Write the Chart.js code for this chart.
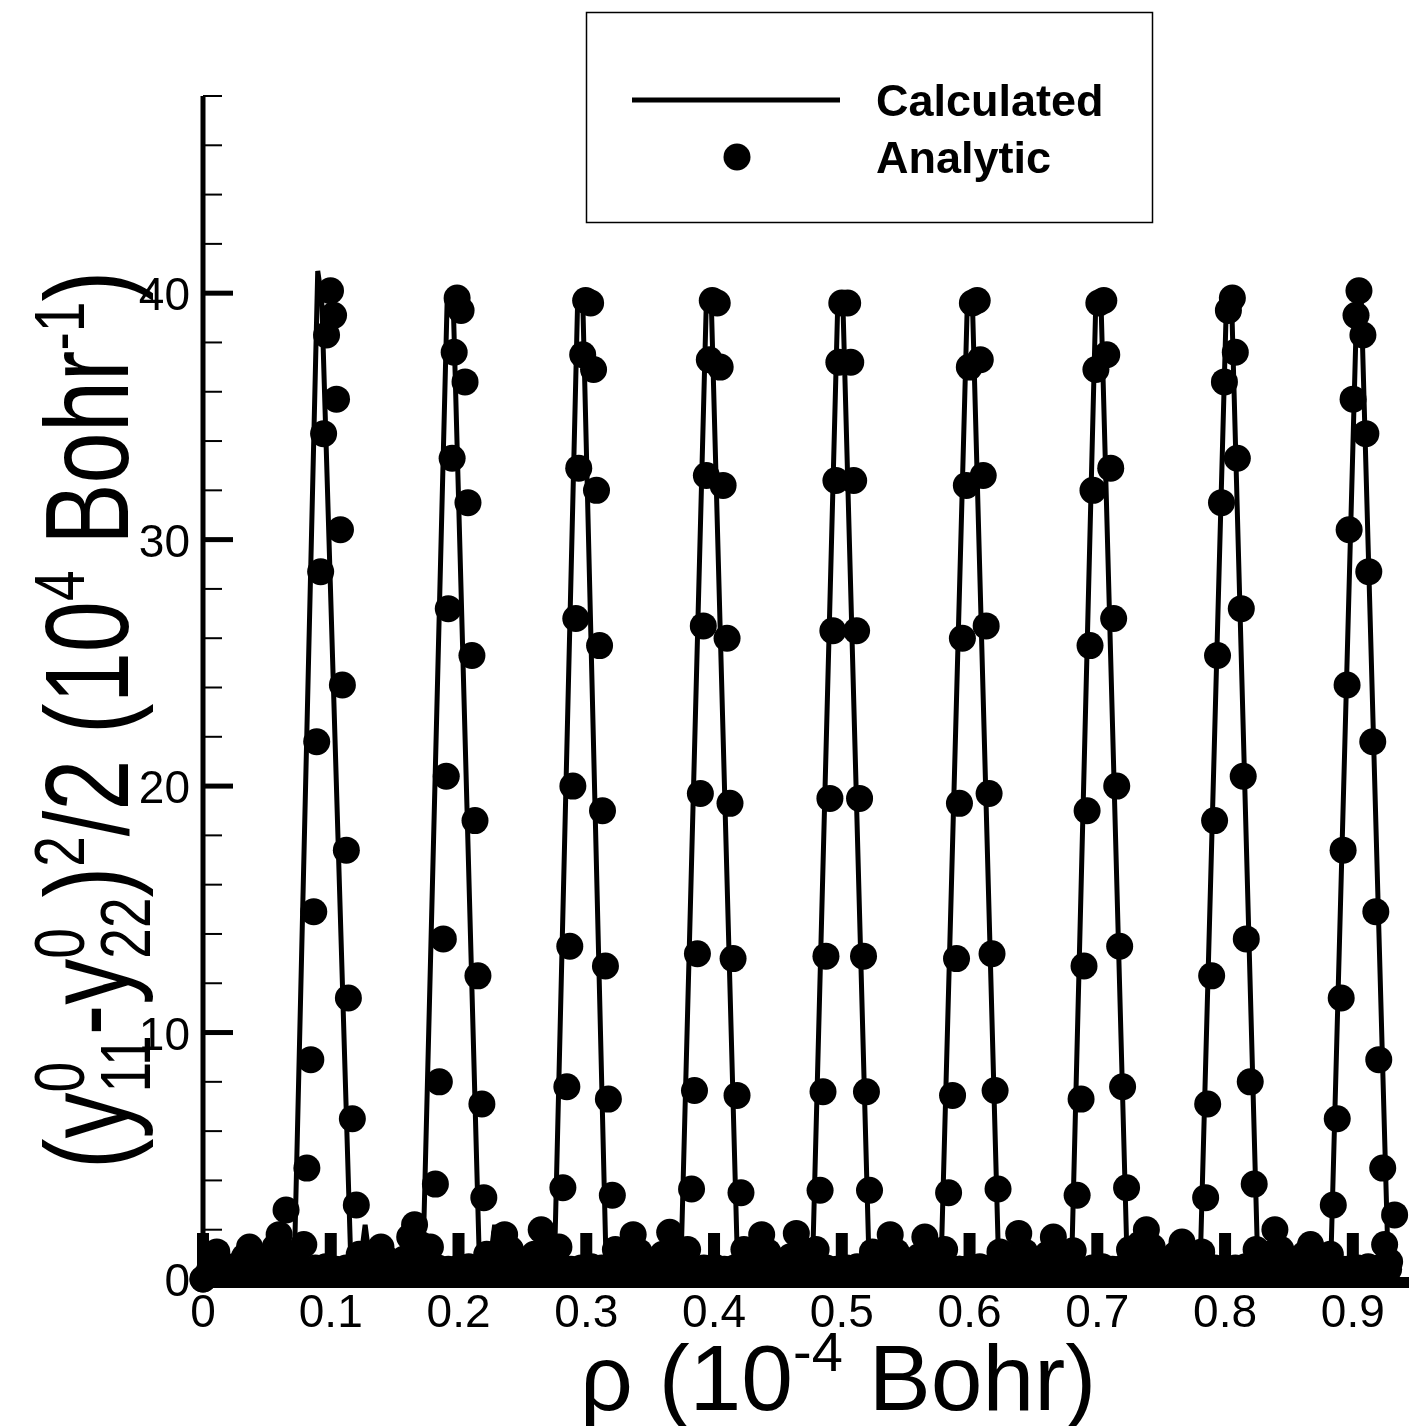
<!DOCTYPE html>
<html>
<head>
<meta charset="utf-8">
<script src="https://cdn.jsdelivr.net/npm/chart.js@4.4.0/dist/chart.umd.min.js"></script>
<style>
  html, body { margin: 0; padding: 0; background: #fff; }
  canvas { display: block; }
</style>
</head>
<body>
<canvas id="chart" width="1409" height="1426"></canvas>
<script>
// calculated curve (rho in 1e-4 Bohr)
const rhoCalc = [
  0, 0.0300, 0.0542, 0.0596, 0.0650,
  0.0712, 0.0898, 0.0929, 0.1161, 0.1215, 0.1269, 0.1324, 0.1450, 0.1595, 0.1649, 0.1703,
  0.1718, 0.1912, 0.1958, 0.2167, 0.2229, 0.2283, 0.2337, 0.2470, 0.2593, 0.2647, 0.2701,
  0.2748, 0.2933, 0.2972, 0.3158, 0.3313, 0.3367, 0.3421, 0.3500, 0.3599, 0.3653, 0.3707,
  0.3738, 0.3940, 0.3978, 0.4187, 0.4319, 0.4373, 0.4427, 0.4500, 0.4590, 0.4644, 0.4698,
  0.4768, 0.4969, 0.5008, 0.5217, 0.5325, 0.5379, 0.5433, 0.5500, 0.5596, 0.5650, 0.5704,
  0.5774, 0.5983, 0.6022, 0.6231, 0.6331, 0.6385, 0.6439, 0.6510, 0.6602, 0.6656, 0.6710,
  0.6796, 0.6989, 0.7028, 0.7237, 0.7330, 0.7384, 0.7438, 0.7510, 0.7608, 0.7663, 0.7717,
  0.7802, 0.8011, 0.8050, 0.8259, 0.8336, 0.8390, 0.8444, 0.8520, 0.8615, 0.8669, 0.8723,
  0.8824, 0.9033, 0.9064, 0.9280, 0.9350
]
const calc = [
  0, 0.5, 0, 1.6, 0,
  0, 40.9, 39.8, 0, 0, 2.2, 0, 0.5, 0, 1.8, 0,
  0, 39.9, 39.7, 0, 0, 2.2, 0, 0.5, 0, 1.7, 0,
  0, 39.8, 39.8, 0, 0, 1.5, 0, 0.5, 0, 1.6, 0,
  0, 39.7, 39.7, 0, 0, 1.5, 0, 0.5, 0, 1.6, 0,
  0, 39.7, 39.7, 0, 0, 1.5, 0, 0.5, 0, 1.4, 0,
  0, 39.7, 39.7, 0, 0, 1.5, 0, 0.5, 0, 1.4, 0,
  0, 39.8, 39.8, 0, 0, 1.5, 0, 0.5, 0, 1.2, 0,
  0, 39.7, 39.9, 0, 0, 1.5, 0, 0.5, 0, 1.1, 0,
  0, 40.0, 40.1, 0, 0.8
]

// analytic points: peak flanks, sidelobe humps and the dense row along zero
const rhoAnalytic = [
  0.0000, 0.0046, 0.0108, 0.0163, 0.0217, 0.0271, 0.0325, 0.0364, 0.0418, 0.0464, 0.0519, 0.0565, 0.0596, 0.0650, 0.0689, 0.0735, 0.0789,
  0.0844, 0.0890, 0.0937, 0.0983, 0.1029, 0.1076, 0.1122, 0.1169,
  0.0813, 0.0844, 0.0867, 0.0890, 0.0921, 0.0944, 0.0967, 0.0998, 0.1022, 0.1045, 0.1076, 0.1091, 0.1122, 0.1138, 0.1169, 0.1200,
  0.1223, 0.1262, 0.1300, 0.1347, 0.1393, 0.1440, 0.1486, 0.1525, 0.1571, 0.1618, 0.1656, 0.1703, 0.1780,
  0.1850, 0.1896, 0.1943, 0.1989, 0.2036, 0.2082, 0.2129, 0.2175,
  0.1819, 0.1850, 0.1881, 0.1904, 0.1920, 0.1950, 0.1966, 0.1989, 0.2020, 0.2051, 0.2074, 0.2105, 0.2129, 0.2152, 0.2183, 0.2198,
  0.2221, 0.2260, 0.2307, 0.2361, 0.2407, 0.2454, 0.2500, 0.2546, 0.2593, 0.2647, 0.2693, 0.2740, 0.2786,
  0.2856, 0.2902, 0.2949, 0.2995, 0.3042, 0.3088, 0.3135, 0.3181,
  0.2817, 0.2848, 0.2871, 0.2895, 0.2918, 0.2941, 0.2972, 0.2995, 0.3034, 0.3057, 0.3080, 0.3104, 0.3127, 0.3150, 0.3173, 0.3204,
  0.3228, 0.3266, 0.3313, 0.3367, 0.3413, 0.3460, 0.3506, 0.3553, 0.3599, 0.3653, 0.3700, 0.3746, 0.3793,
  0.3862, 0.3909, 0.3955, 0.4002, 0.4048, 0.4094, 0.4141, 0.4187,
  0.3824, 0.3847, 0.3870, 0.3893, 0.3916, 0.3940, 0.3963, 0.3986, 0.4025, 0.4048, 0.4071, 0.4102, 0.4125, 0.4149, 0.4180, 0.4211,
  0.4234, 0.4272, 0.4319, 0.4373, 0.4420, 0.4466, 0.4512, 0.4559, 0.4598, 0.4644, 0.4690, 0.4737, 0.4799,
  0.4868, 0.4915, 0.4961, 0.5008, 0.5054, 0.5101, 0.5147, 0.5193,
  0.4830, 0.4853, 0.4876, 0.4907, 0.4930, 0.4954, 0.4977, 0.5000, 0.5046, 0.5070, 0.5093, 0.5116, 0.5139, 0.5170, 0.5193, 0.5217,
  0.5240, 0.5286, 0.5333, 0.5379, 0.5426, 0.5472, 0.5519, 0.5565, 0.5604, 0.5650, 0.5697, 0.5743, 0.5805,
  0.5875, 0.5921, 0.5967, 0.6014, 0.6060, 0.6107, 0.6153, 0.6200,
  0.5836, 0.5867, 0.5898, 0.5921, 0.5944, 0.5975, 0.5998, 0.6022, 0.6060, 0.6084, 0.6107, 0.6130, 0.6153, 0.6176, 0.6200, 0.6223,
  0.6238, 0.6285, 0.6331, 0.6385, 0.6432, 0.6478, 0.6525, 0.6571, 0.6610, 0.6656, 0.6703, 0.6749, 0.6811,
  0.6881, 0.6927, 0.6974, 0.7020, 0.7067, 0.7113, 0.7159, 0.7206,
  0.6842, 0.6873, 0.6896, 0.6920, 0.6943, 0.6966, 0.6989, 0.7012, 0.7051, 0.7074, 0.7105, 0.7128, 0.7152, 0.7175, 0.7198, 0.7229,
  0.7252, 0.7291, 0.7330, 0.7384, 0.7430, 0.7477, 0.7523, 0.7570, 0.7616, 0.7663, 0.7709, 0.7755, 0.7817,
  0.7887, 0.7933, 0.7980, 0.8026, 0.8073, 0.8119, 0.8166, 0.8212,
  0.7848, 0.7864, 0.7895, 0.7918, 0.7941, 0.7972, 0.7995, 0.8026, 0.8057, 0.8080, 0.8096, 0.8127, 0.8142, 0.8166, 0.8197, 0.8228,
  0.8243, 0.8289, 0.8336, 0.8390, 0.8437, 0.8483, 0.8529, 0.8576, 0.8622, 0.8669, 0.8715, 0.8762, 0.8824,
  0.8878, 0.8924, 0.8971, 0.9017, 0.9063, 0.9110, 0.9156, 0.9203,
  0.8847, 0.8878, 0.8909, 0.8924, 0.8955, 0.8971, 0.9002, 0.9025, 0.9048, 0.9079, 0.9102, 0.9125, 0.9156, 0.9180, 0.9203, 0.9234,
  0.9249, 0.9288, 0.9327,
  0.000, 0.008, 0.016, 0.024, 0.032, 0.040, 0.048, 0.056, 0.064, 0.072, 0.080, 0.088, 0.096,
  0.104, 0.112, 0.120, 0.128, 0.136, 0.144, 0.152, 0.160, 0.168, 0.176, 0.184, 0.192, 0.200,
  0.208, 0.216, 0.224, 0.232, 0.240, 0.248, 0.256, 0.264, 0.272, 0.280, 0.288, 0.296, 0.304,
  0.312, 0.320, 0.328, 0.336, 0.344, 0.352, 0.360, 0.368, 0.376, 0.384, 0.392, 0.400, 0.408,
  0.416, 0.424, 0.432, 0.440, 0.448, 0.456, 0.464, 0.472, 0.480, 0.488, 0.496, 0.504, 0.512,
  0.520, 0.528, 0.536, 0.544, 0.552, 0.560, 0.568, 0.576, 0.584, 0.592, 0.600, 0.608, 0.616,
  0.624, 0.632, 0.640, 0.648, 0.656, 0.664, 0.672, 0.680, 0.688, 0.696, 0.704, 0.712, 0.720,
  0.728, 0.736, 0.744, 0.752, 0.760, 0.768, 0.776, 0.784, 0.792, 0.800, 0.808, 0.816, 0.824,
  0.832, 0.840, 0.848, 0.856, 0.864, 0.872, 0.880, 0.888, 0.896, 0.904, 0.912, 0.920, 0.928
]
const analytic = [
  0.0, 0.3, 1.1, 0.5, 0.2, 0.4, 0.9, 1.3, 0.7, 0.3, 0.6, 1.3, 1.8, 2.8, 1.0, 0.3, 1.4,
  0.3, 0.4, 0.2, 0.3, 0.2, 0.3, 0.4, 0.3,
  4.5, 8.9, 14.9, 21.8, 28.7, 34.3, 38.3, 40.1, 39.1, 35.7, 30.4, 24.1, 17.4, 11.4, 6.5, 3.0,
  1.0, 0.3, 0.2, 0.7, 1.3, 0.8, 0.3, 0.2, 0.8, 1.7, 2.2, 1.4, 1.3,
  0.3, 0.2, 0.3, 0.4, 0.2, 0.3, 0.2, 0.4,
  3.85, 8.0, 13.8, 20.4, 27.2, 33.3, 37.6, 39.8, 39.3, 36.4, 31.5, 25.3, 18.6, 12.3, 7.1, 3.3,
  1.0, 0.3, 0.6, 1.8, 1.2, 0.4, 0.2, 0.3, 1.0, 2.0, 1.2, 0.4, 1.3,
  0.3, 0.2, 0.4, 0.3, 0.2, 0.3, 0.4, 0.2,
  3.7, 7.8, 13.5, 20.0, 26.8, 32.9, 37.5, 39.7, 39.6, 36.9, 32.0, 25.7, 19.0, 12.7, 7.3, 3.4,
  1.2, 0.4, 0.7, 1.8, 1.1, 0.4, 0.6, 0.3, 1.0, 1.9, 1.1, 0.4, 1.2,
  0.3, 0.4, 0.2, 0.3, 0.3, 0.2, 0.4, 0.3,
  3.65, 7.65, 13.2, 19.7, 26.5, 32.6, 37.3, 39.7, 39.6, 37.0, 32.2, 26.0, 19.3, 13.0, 7.45, 3.5,
  1.2, 0.4, 0.7, 1.8, 1.1, 0.4, 0.5, 0.3, 0.9, 1.85, 1.2, 0.4, 1.2,
  0.3, 0.2, 0.3, 0.4, 0.3, 0.2, 0.3, 0.3,
  3.6, 7.6, 13.1, 19.5, 26.3, 32.4, 37.2, 39.6, 39.6, 37.2, 32.4, 26.3, 19.5, 13.1, 7.6, 3.6,
  1.1, 0.4, 0.9, 1.8, 1.1, 0.4, 0.5, 0.3, 0.9, 1.7, 1.1, 0.4, 1.2,
  0.3, 0.4, 0.2, 0.3, 0.3, 0.2, 0.4, 0.3,
  3.5, 7.45, 13.0, 19.3, 26.0, 32.2, 37.0, 39.6, 39.7, 37.3, 32.6, 26.5, 19.7, 13.2, 7.65, 3.65,
  1.1, 0.4, 0.9, 1.85, 1.1, 0.4, 0.3, 0.5, 1.0, 1.7, 1.0, 0.4, 1.15,
  0.3, 0.2, 0.4, 0.3, 0.2, 0.3, 0.3, 0.4,
  3.4, 7.3, 12.7, 19.0, 25.7, 32.0, 36.9, 39.6, 39.7, 37.5, 32.9, 26.8, 20.0, 13.5, 7.8, 3.7,
  1.2, 0.6, 1.4, 2.0, 1.3, 0.4, 0.3, 0.5, 1.0, 1.5, 0.9, 0.4, 1.1,
  0.4, 0.2, 0.3, 0.2, 0.4, 0.3, 0.2, 0.3,
  3.3, 7.1, 12.3, 18.6, 25.3, 31.5, 36.4, 39.3, 39.8, 37.6, 33.3, 27.2, 20.4, 13.8, 8.0, 3.85,
  1.2, 0.5, 1.0, 2.0, 1.2, 0.4, 0.3, 0.5, 1.0, 1.4, 0.8, 0.3, 1.0,
  0.3, 0.4, 0.2, 0.3, 0.3, 0.2, 0.4, 0.3,
  3.0, 6.5, 11.4, 17.4, 24.1, 30.4, 35.7, 39.1, 40.1, 38.3, 34.3, 28.7, 21.8, 14.9, 8.9, 4.5,
  1.4, 0.7, 2.6,
  0.00, 0.45, 0.40, 0.50, 0.45, 0.40, 0.45, 0.50, 0.40, 0.45, 0.35, 0.45, 0.50,
  0.40, 0.45, 0.50, 0.45, 0.40, 0.45, 0.50, 0.45, 0.40, 0.50, 0.45, 0.40, 0.45,
  0.50, 0.40, 0.45, 0.35, 0.45, 0.50, 0.40, 0.45, 0.50, 0.45, 0.40, 0.45, 0.50,
  0.45, 0.40, 0.50, 0.45, 0.40, 0.45, 0.50, 0.40, 0.45, 0.35, 0.45, 0.50, 0.40,
  0.45, 0.50, 0.45, 0.40, 0.45, 0.50, 0.45, 0.40, 0.50, 0.45, 0.40, 0.45, 0.50,
  0.40, 0.45, 0.35, 0.45, 0.50, 0.40, 0.45, 0.50, 0.45, 0.40, 0.45, 0.50, 0.45,
  0.40, 0.50, 0.45, 0.40, 0.45, 0.50, 0.40, 0.45, 0.35, 0.45, 0.50, 0.40, 0.45,
  0.50, 0.45, 0.40, 0.45, 0.50, 0.45, 0.40, 0.50, 0.45, 0.40, 0.45, 0.50, 0.40,
  0.45, 0.35, 0.45, 0.50, 0.40, 0.45, 0.50, 0.45, 0.40, 0.45, 0.50, 0.45, 0.40
]

const xTicks = [0, 0.1, 0.2, 0.3, 0.4, 0.5, 0.6, 0.7, 0.8, 0.9]
const xTickLabels = ['0', '0.1', '0.2', '0.3', '0.4', '0.5', '0.6', '0.7', '0.8', '0.9']
const yTicks = [0, 10, 20, 30, 40]
const yTickLabels = ['0', '10', '20', '30', '40']
const yMinorTicks = [2, 4, 6, 8, 12, 14, 16, 18, 22, 24, 26, 28, 32, 34, 36, 38, 42, 44, 46, 48]

const FONT = '"Liberation Sans", Arial, Helvetica, sans-serif'

function runWidth(ctx, r, M) {
  if (r[0] === 'n') {
    ctx.font = M + 'px ' + FONT
    return ctx.measureText(r[1]).width
  }
  ctx.font = Math.round(M * 0.6) + 'px ' + FONT
  if (r[0] === 'stack') return Math.max(ctx.measureText(r[1]).width, ctx.measureText(r[2]).width)
  return ctx.measureText(r[1]).width
}

// text with super/subscripts, centred on cx, baseline by
function drawRich(ctx, runs, cx, by, M, raise, drop) {
  let total = 0
  runs.forEach((r) => { total += runWidth(ctx, r, M) })
  let x = cx - total / 2
  ctx.textAlign = 'left'
  ctx.textBaseline = 'alphabetic'
  runs.forEach((r) => {
    const w = runWidth(ctx, r, M)
    if (r[0] === 'n') ctx.fillText(r[1], x, by)
    else if (r[0] === 'sup') ctx.fillText(r[1], x, by - M * raise)
    else if (r[0] === 'sub') ctx.fillText(r[1], x, by + M * drop)
    else {
      ctx.fillText(r[1], x, by - M * raise)
      ctx.fillText(r[2], x, by + M * drop)
    }
    x += w
  })
}

const axesPlugin = {
  id: 'tecplotAxes',
  beforeDatasetsDraw(chart) {
    const ctx = chart.ctx
    const xs = chart.scales.x, ys = chart.scales.y
    const x0 = xs.getPixelForValue(0), y0 = ys.getPixelForValue(0)
    ctx.save()
    ctx.strokeStyle = '#000'
    ctx.fillStyle = '#000'
    ctx.lineCap = 'butt'

    // y axis line
    ctx.lineWidth = 5
    ctx.beginPath()
    ctx.moveTo(x0, ys.getPixelForValue(48))
    ctx.lineTo(x0, y0)
    ctx.stroke()
    // x axis (thick, hidden under the points)
    ctx.fillRect(x0 - 2.5, y0 - 2, chart.width, 11)

    // y ticks
    ctx.lineWidth = 2
    yMinorTicks.forEach((v) => {
      const py = ys.getPixelForValue(v)
      ctx.beginPath(); ctx.moveTo(x0, py); ctx.lineTo(x0 + 19, py); ctx.stroke()
    })
    ctx.lineWidth = 5
    yTicks.forEach((v) => {
      const py = ys.getPixelForValue(v)
      ctx.beginPath(); ctx.moveTo(x0, py); ctx.lineTo(x0 + 30, py); ctx.stroke()
    })

    // x ticks drawn inward
    xTicks.forEach((v) => {
      const px = xs.getPixelForValue(v)
      ctx.fillRect(px - 6, y0 - 46, 12, 46)
    })
    ctx.restore()
  },
  afterDraw(chart) {
    const ctx = chart.ctx
    const xs = chart.scales.x, ys = chart.scales.y
    ctx.save()
    ctx.fillStyle = '#000'
    ctx.strokeStyle = '#000'

    // tick labels
    ctx.font = '46px ' + FONT
    ctx.textBaseline = 'alphabetic'
    ctx.textAlign = 'right'
    yTicks.forEach((v, i) => {
      ctx.fillText(yTickLabels[i], 190, ys.getPixelForValue(v) + 17)
    })
    ctx.textAlign = 'center'
    xTicks.forEach((v, i) => {
      ctx.fillText(xTickLabels[i], xs.getPixelForValue(v), 1327)
    })

    // axis titles
    drawRich(ctx, [['n', 'ρ (10'], ['sup', '-4'], ['n', ' Bohr)']], 838, 1410, 93, 0.42, 0.2)
    ctx.save()
    ctx.translate(128, 720)
    ctx.rotate(-Math.PI / 2)
    ctx.scale(1, 1.28)
    drawRich(ctx, [
      ['n', '(y'], ['stack', '0', '11'], ['n', '-y'], ['stack', '0', '22'], ['n', ')'],
      ['sup', '2'], ['n', '/2 (10'], ['sup', '4'], ['n', ' Bohr'], ['sup', '-1'], ['n', ')']
    ], 0, 0, 92, 0.37, 0.19)
    ctx.restore()

    // legend
    ctx.lineWidth = 1.5
    ctx.strokeRect(586.5, 12.5, 566, 210)
    ctx.lineWidth = 5
    ctx.beginPath(); ctx.moveTo(632, 100); ctx.lineTo(840, 100); ctx.stroke()
    ctx.beginPath(); ctx.arc(737, 157, 13.5, 0, Math.PI * 2); ctx.fill()
    ctx.font = 'bold 45px ' + FONT
    ctx.textAlign = 'left'
    ctx.fillText('Calculated', 876, 116)
    ctx.fillText('Analytic', 876, 173)
    ctx.restore()
  }
}

new Chart(document.getElementById('chart'), {
  type: 'scatter',
  data: {
    datasets: [
      {
        label: 'Analytic',
        data: rhoAnalytic.map((r, i) => ({ x: r, y: analytic[i] })),
        pointRadius: 13.5,
        pointHoverRadius: 13.5,
        pointBackgroundColor: '#000',
        pointBorderWidth: 0,
        showLine: false,
        clip: false,
      },
      {
        label: 'Calculated',
        type: 'line',
        data: rhoCalc.map((r, i) => ({ x: r, y: calc[i] })),
        borderColor: '#000',
        borderWidth: 5,
        borderJoinStyle: 'bevel',
        pointRadius: 0,
        tension: 0,
        fill: false,
        clip: false,
      },
    ],
  },
  options: {
    responsive: false,
    animation: false,
    devicePixelRatio: 1,
    layout: { padding: { left: 203, right: 0, top: 96, bottom: 147 } },
    scales: {
      x: { type: 'linear', min: 0, max: 0.9334, display: false },
      y: { type: 'linear', min: 0, max: 48, display: false },
    },
    plugins: { legend: { display: false }, tooltip: { enabled: false } },
  },
  plugins: [axesPlugin],
})
</script>
</body>
</html>
